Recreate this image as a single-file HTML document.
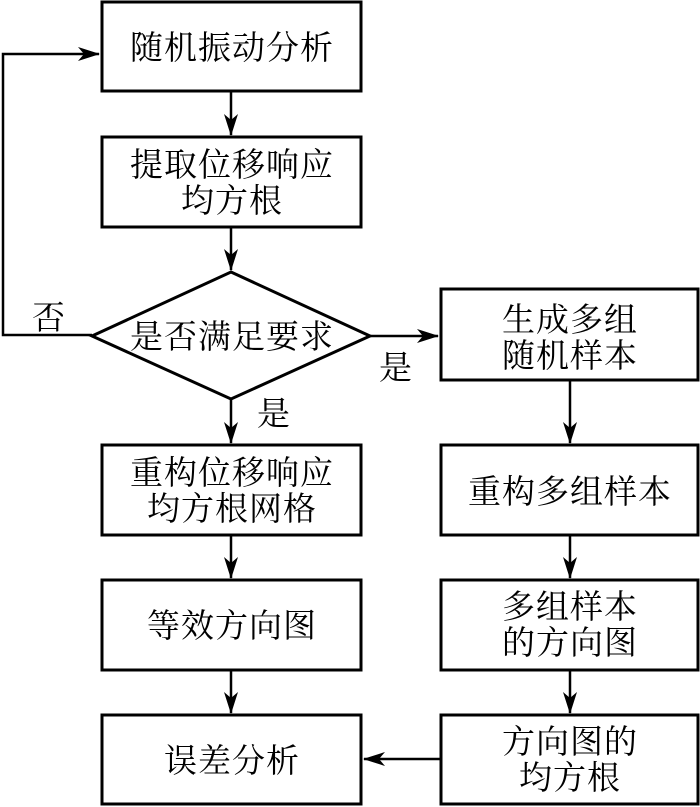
<!DOCTYPE html>
<html><head><meta charset="utf-8"><style>
html,body{margin:0;padding:0;background:#fff;}
svg{display:block;}
text{font-family:"Liberation Serif","Noto Serif CJK SC","Noto Sans CJK SC",serif;font-size:33px;fill:#000;text-anchor:middle;letter-spacing:1px;}
</style></head><body>
<svg width="700" height="807" viewBox="0 0 700 807" xmlns="http://www.w3.org/2000/svg">
<defs>
<marker id="a" markerWidth="22" markerHeight="16" refX="21" refY="8" orient="auto" markerUnits="userSpaceOnUse">
<path d="M0,1 L22,8 L0,15 L6,8 Z" fill="#000"/>
</marker>
</defs>
<g fill="none" stroke="#000" stroke-width="3">
<rect x="102" y="2" width="259" height="89"/>
<rect x="102" y="137" width="259" height="90"/>
<polygon points="231,272 370,336 231,399 92,336"/>
<rect x="102" y="445" width="259" height="90"/>
<rect x="102" y="580" width="259" height="90"/>
<rect x="102" y="715" width="259" height="89"/>
<rect x="441" y="289" width="257" height="91"/>
<rect x="441" y="445" width="257" height="90"/>
<rect x="441" y="580" width="257" height="90"/>
<rect x="441" y="715" width="257" height="89"/>
</g>
<g stroke="#000" stroke-width="2.5" fill="none">
<line x1="231" y1="91" x2="231" y2="135" marker-end="url(#a)"/>
<line x1="231" y1="227" x2="231" y2="270" marker-end="url(#a)"/>
<line x1="231" y1="399" x2="231" y2="443" marker-end="url(#a)"/>
<line x1="231" y1="535" x2="231" y2="578" marker-end="url(#a)"/>
<line x1="231" y1="670" x2="231" y2="713" marker-end="url(#a)"/>
<line x1="370" y1="336" x2="438" y2="336" marker-end="url(#a)"/>
<line x1="570" y1="380" x2="570" y2="443" marker-end="url(#a)"/>
<line x1="570" y1="535" x2="570" y2="578" marker-end="url(#a)"/>
<line x1="570" y1="670" x2="570" y2="713" marker-end="url(#a)"/>
<line x1="441" y1="759" x2="364" y2="759" marker-end="url(#a)"/>
<polyline points="92,335 3,335 3,54 99,54" marker-end="url(#a)"/>
</g>
<text x="232" y="59">随机振动分析</text>
<text x="232" y="176">提取位移响应</text>
<text x="232" y="212">均方根</text>
<text x="232" y="348">是否满足要求</text>
<text x="232" y="484">重构位移响应</text>
<text x="232" y="520">均方根网格</text>
<text x="232" y="637">等效方向图</text>
<text x="232" y="772">误差分析</text>
<text x="570" y="331">生成多组</text>
<text x="570" y="367">随机样本</text>
<text x="570" y="503">重构多组样本</text>
<text x="570" y="618">多组样本</text>
<text x="570" y="654">的方向图</text>
<text x="570" y="753">方向图的</text>
<text x="570" y="789">均方根</text>
<text x="49" y="329">否</text>
<text x="274" y="425">是</text>
<text x="396" y="379">是</text>
</svg>
</body></html>
